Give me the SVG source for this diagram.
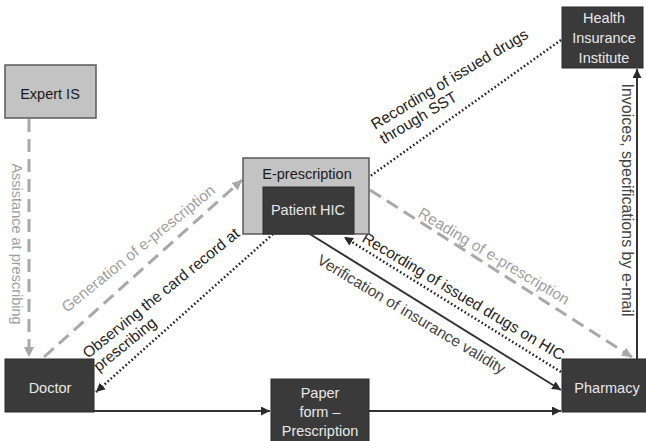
<svg xmlns="http://www.w3.org/2000/svg" width="646" height="441" viewBox="0 0 646 441">
  <style>
    text { font-family: "Liberation Sans", Arial, sans-serif; }
    .dark rect { fill: #3a3a3a; stroke: #2a2a2a; stroke-width: 1; }
    .dark text { fill: #e8e8e8; font-size: 14.5px; text-anchor: middle; }
    .light rect { fill: #c3c3c3; stroke: #5a5a5a; stroke-width: 1.5; }
    .light text { fill: #1a1a1a; font-size: 14.5px; text-anchor: middle; }
    .solid { fill: none; stroke: #333; stroke-width: 2; }
    .dash { fill: none; stroke: #a8a8a8; stroke-width: 3; stroke-dasharray: 13 7; }
    .dot { fill: none; stroke: #222; stroke-width: 2.5; stroke-dasharray: 1.6 2.4; }
    .lbl { font-size: 15.5px; fill: #222; }
    .lbl-g { font-size: 15.5px; fill: #a0a0a0; }
    .lbl-m { font-size: 15.5px; fill: #444; }
  </style>
  <defs>
    <marker id="ah" viewBox="0 0 10 10" refX="10" refY="5" markerWidth="9" markerHeight="9" markerUnits="userSpaceOnUse" orient="auto">
      <path d="M0,0 L10,5 L0,10 z" fill="#2a2a2a"/>
    </marker>
    <marker id="ah-g" viewBox="0 0 10 10" refX="10" refY="5" markerWidth="10" markerHeight="10" markerUnits="userSpaceOnUse" orient="auto">
      <path d="M0,0 L10,5 L0,10 z" fill="#a8a8a8"/>
    </marker>
  </defs>

  <!-- connectors -->
  <g id="connectors">
    <line class="dash" x1="29" y1="119" x2="29" y2="357" marker-end="url(#ah-g)"/>
    <line class="dash" x1="44" y1="357" x2="242" y2="180" marker-end="url(#ah-g)"/>
    <line class="dot" x1="273" y1="234" x2="96" y2="392" marker-end="url(#ah)"/>
    <line class="dash" x1="370" y1="190" x2="632" y2="357" marker-end="url(#ah-g)"/>
    <line class="dot" x1="561" y1="372" x2="344" y2="237" marker-end="url(#ah)"/>
    <line class="solid" x1="305" y1="231" x2="561" y2="390" marker-end="url(#ah)"/>
    <line class="dot" x1="561" y1="40" x2="355" y2="187" marker-end="url(#ah)"/>
    <line class="solid" x1="637" y1="359" x2="637" y2="69" marker-end="url(#ah)"/>
    <line class="solid" x1="94" y1="411" x2="270" y2="411" marker-end="url(#ah)"/>
    <line class="solid" x1="369" y1="411" x2="561" y2="411" marker-end="url(#ah)"/>

    <!-- connector labels -->
    <text class="lbl-g" transform="translate(12,244) rotate(90)" text-anchor="middle" style="font-size:14.5px">Assistance at prescribing</text>
    <text class="lbl-g" transform="translate(67,313) rotate(-39)">Generation of e-prescription</text>
    <text class="lbl" transform="translate(88,359) rotate(-39)">Observing the card record at<tspan x="0" dy="17">prescribing</tspan></text>
    <text class="lbl" transform="translate(375,130) rotate(-31)">Recording of issued drugs<tspan x="0" dy="17">through SST</tspan></text>
    <text class="lbl-g" transform="translate(417,216) rotate(31)">Reading of e-prescription</text>
    <text class="lbl" transform="translate(361,241) rotate(31)">Recording of issued drugs on HIC</text>
    <text class="lbl-m" transform="translate(316,263) rotate(31)">Verification of insurance validity</text>
    <text class="lbl-m" transform="translate(621.5,200) rotate(90)" text-anchor="middle" style="font-size:16px">Invoices, specifications by e-mail</text>
  </g>

  <!-- nodes -->
  <g id="expert-is" class="light">
    <rect x="5" y="65" width="91" height="53"/>
    <text x="50" y="99">Expert IS</text>
  </g>

  <g id="e-prescription" class="light">
    <rect x="243" y="158" width="126" height="76"/>
    <text x="307" y="179">E-prescription</text>
  </g>

  <g id="patient-hic" class="dark">
    <rect x="263" y="187" width="91" height="47"/>
    <text x="308" y="215">Patient HIC</text>
  </g>

  <g id="health-insurance-institute" class="dark">
    <rect x="562" y="7" width="81" height="61"/>
    <text x="604" y="23">Health</text>
    <text x="604" y="43">Insurance</text>
    <text x="604" y="63">Institute</text>
  </g>

  <g id="doctor" class="dark">
    <rect x="5" y="359" width="89" height="53"/>
    <text x="50" y="393">Doctor</text>
  </g>

  <g id="paper-form" class="dark">
    <rect x="271" y="379" width="98" height="66"/>
    <text x="320" y="398">Paper</text>
    <text x="320" y="417">form –</text>
    <text x="320" y="436">Prescription</text>
  </g>

  <g id="pharmacy" class="dark">
    <rect x="562" y="359" width="90" height="53"/>
    <text x="607" y="393">Pharmacy</text>
  </g>
</svg>
